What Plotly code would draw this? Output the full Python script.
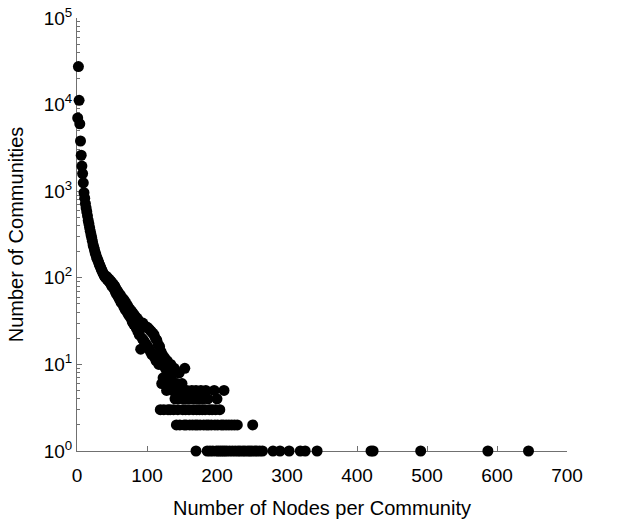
import plotly.graph_objects as go

# Community size (nodes) and number of communities with that size
curve_sizes = list(range(1, 119))
curve_counts = [
    7000, 27500, 11200, 6000, 3800, 2600, 1950, 1600, 1250, 960,
    830, 720, 640, 580, 520, 460, 420, 380, 345, 315,
    290, 265, 240, 225, 210, 195, 185, 172, 165, 158,
    150, 142, 136, 130, 124, 119, 114, 110, 106, 103,
    100, 104, 96, 100, 92, 96, 88, 92, 82, 88,
    78, 84, 74, 80, 68, 74, 64, 70, 60, 66,
    56, 63, 52, 59, 50, 57, 46, 54, 43, 51,
    41, 48, 38, 45, 36, 43, 34, 41, 31, 39,
    29, 37, 28, 35, 26, 34, 24, 32, 22, 30,
    15, 29, 20, 30, 19, 28, 18, 27, 17, 27,
    16, 26, 15, 25, 14, 24, 13, 23, 13, 22,
    12, 20, 11, 19, 11, 17, 10, 16,
]

mid_sizes = [120, 121, 122, 123, 125, 126, 127, 129, 131, 132, 134, 135,
             139, 143, 146, 150, 154]
mid_counts = [14, 6, 13, 7, 12, 9, 6, 11, 8, 6, 10, 7,
              9, 6, 8, 6, 9]

sizes_5 = [128, 136, 141, 149, 157, 164, 170, 177, 184, 196, 210]
sizes_4 = [140, 145, 152, 158, 163, 168, 174, 180, 187, 200]
sizes_3 = [119, 124, 130, 133, 138, 144, 151, 155, 160, 166, 171, 175,
           179, 183, 189, 193, 198, 204]
sizes_2 = [142, 147, 153, 156, 161, 165, 169, 172, 176, 181, 185, 188, 192,
           197, 201, 206, 209, 213, 217, 221, 225, 229, 251]
sizes_1 = [170, 186, 190, 194, 199, 202, 205, 208, 211, 214, 218, 222, 226,
           230, 233, 237, 240, 244, 247, 250, 254, 257, 261, 265, 280, 290,
           303, 319, 326, 343, 420, 423, 491, 587, 645]

x_vals = (curve_sizes + mid_sizes + sizes_5 + sizes_4 + sizes_3 + sizes_2 + sizes_1)
y_vals = (curve_counts + mid_counts + [5] * len(sizes_5) + [4] * len(sizes_4)
          + [3] * len(sizes_3) + [2] * len(sizes_2) + [1] * len(sizes_1))

x_ticks = [0, 100, 200, 300, 400, 500, 600, 700]
y_major = [1, 10, 100, 1000, 10000, 100000]
y_major_text = ["10<sup>%d</sup>" % k for k in range(6)]
y_minor = [m * d for d in [1, 10, 100, 1000, 10000] for m in range(2, 10)]

font_family = "Liberation Sans, Arial, Helvetica, sans-serif"
axis_color = "#707070"

fig = go.Figure(
    go.Scatter(
        x=x_vals, y=y_vals, mode="markers",
        marker=dict(size=11, color="black", line=dict(width=0)),
        cliponaxis=False, showlegend=False,
    )
)

fig.update_layout(
    width=628, height=519,
    margin=dict(l=77, r=61, t=18, b=68),
    paper_bgcolor="white", plot_bgcolor="white",
    font=dict(family=font_family, size=20, color="black"),
)
fig.update_xaxes(
    range=[0, 700], tickmode="array", tickvals=x_ticks,
    ticks="inside", ticklen=5, tickcolor=axis_color, tickwidth=1,
    showline=True, linecolor=axis_color, linewidth=1,
    showgrid=False, zeroline=False, layer="below traces", automargin=False,
    tickfont=dict(size=19), ticklabelstandoff=7,
    title=dict(text="Number of Nodes per Community", font=dict(size=20), standoff=16),
)
fig.update_yaxes(
    type="log", range=[0, 5], tickmode="array", tickvals=y_major,
    ticktext=y_major_text,
    ticks="inside", ticklen=5, tickcolor=axis_color, tickwidth=1,
    minor=dict(tickmode="array", tickvals=y_minor, ticks="inside", ticklen=3,
               tickcolor=axis_color, showgrid=False),
    showline=True, linecolor=axis_color, linewidth=1,
    showgrid=False, zeroline=False, layer="below traces", automargin=False,
    tickfont=dict(size=19),
    title=dict(text="Number of Communities", font=dict(size=20), standoff=14),
)

fig.write_html("out.html")
